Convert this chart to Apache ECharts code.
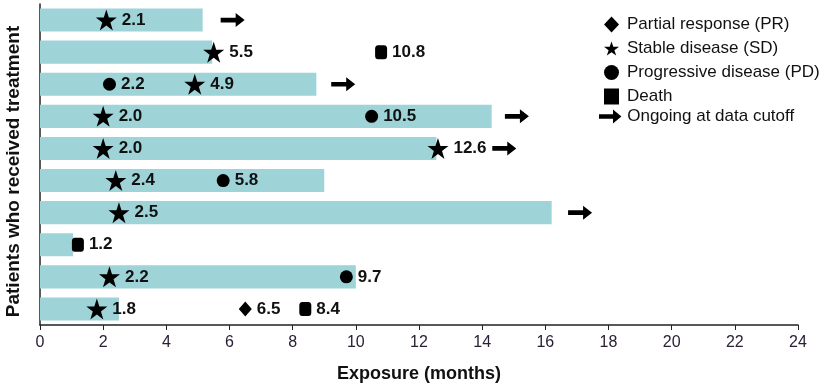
<!DOCTYPE html>
<html>
<head>
<meta charset="utf-8">
<script src="https://cdn.jsdelivr.net/npm/echarts@6/dist/echarts.min.js"></script>
<style>
html, body { margin: 0; padding: 0; background: #fff; }
#draw { width: 829px; height: 388px; }
</style>
</head>
<body>
<div id="draw"></div>
<script>
// one row per patient, top to bottom
var patients = ['1', '2', '3', '4', '5', '6', '7', '8', '9', '10'];
var exposure = [5.15, 5.45, 8.75, 14.3, 12.55, 9.0, 16.2, 1.05, 10.0, 2.5];

// [months, row]
var prPoints = [[6.5, 9]];
var sdPoints = [[2.1, 0], [5.5, 1], [4.9, 2], [2.0, 3], [2.0, 4], [12.6, 4], [2.4, 5], [2.5, 6], [2.2, 8], [1.8, 9]];
var pdPoints = [[2.2, 2], [10.5, 3], [5.8, 5], [9.7, 8]];
var deathPoints = [[10.8, 1], [1.2, 7], [8.4, 9]];
var ongoingPoints = [[6.1, 0], [9.6, 2], [15.1, 3], [14.7, 4], [17.1, 6]];

var xTicks = [0, 2, 4, 6, 8, 10, 12, 14, 16, 18, 20, 22, 24];

var starPath = 'path://M50,0 L61.8,35.5 L99,35.5 L69,57.5 L80.5,93 L50,71 L19.5,93 L31,57.5 L1,35.5 L38.2,35.5 Z';
var arrowPath = 'path://M0,5 L15,5 L15,0 L24,7.5 L15,15 L15,10 L0,10 Z';

var narrow = '"Liberation Sans Narrow", "Arial Narrow", "Liberation Sans", Arial, sans-serif';
var sans = '"Liberation Sans", Arial, sans-serif';

var myChart = echarts.init(document.getElementById('draw'));

var pointLabel = {
	show: true,
	position: 'right',
	distance: 5,
	color: '#111',
	fontFamily: narrow,
	fontWeight: 'bold',
	fontSize: 17,
	formatter: function (p) {
		return p.value[0].toFixed(1);
	}
};

function markerSeries(name, data, symbol, size, withLabel) {
	return {
		name: name,
		type: 'scatter',
		data: data,
		symbol: symbol,
		symbolSize: size,
		itemStyle: { color: '#000', opacity: 1 },
		label: withLabel ? pointLabel : { show: false },
		z: 5,
		silent: true
	};
}

var legendText = { fontFamily: sans, fontSize: 17, color: '#111', lineHeight: 16 };

var option = {
	animation: false,
	grid: { left: 40, right: 31, top: 4, bottom: 63, outerBoundsMode: 'none' },
	legend: [{
		orient: 'vertical',
		left: 604,
		top: 16,
		padding: 0,
		itemWidth: 15,
		itemHeight: 16,
		itemGap: 7,
		textStyle: Object.assign({ padding: [0, 0, 0, 3] }, legendText),
		data: [
			{ name: 'Partial response (PR)', icon: 'diamond' },
			{ name: 'Stable disease (SD)', icon: starPath },
			{ name: 'Progressive disease (PD)', icon: 'circle' },
			{ name: 'Death', icon: 'rect' }
		]
	}, {
		orient: 'vertical',
		left: 599,
		top: 108,
		padding: 0,
		itemWidth: 24,
		itemHeight: 14,
		textStyle: Object.assign({ padding: [0, 0, 0, 0] }, legendText),
		data: [{ name: 'Ongoing at data cutoff', icon: arrowPath }]
	}],
	xAxis: {
		type: 'value',
		min: 0,
		max: 24,
		interval: 2,
		name: 'Exposure (months)',
		nameLocation: 'middle',
		nameGap: 40,
		nameTextStyle: { fontFamily: sans, fontWeight: 'bold', fontSize: 18, color: '#111' },
		axisLine: { show: true, lineStyle: { color: '#222', width: 1.5 } },
		axisTick: { show: true, length: 5, lineStyle: { color: '#222' } },
		axisLabel: {
			fontFamily: narrow, fontSize: 16, color: '#2b2135', margin: 10,
			formatter: function (v) { return xTicks.indexOf(v) >= 0 ? String(v) : ''; }
		},
		splitLine: { show: false }
	},
	yAxis: {
		type: 'category',
		data: patients,
		inverse: true,
		name: 'Patients who received treatment',
		nameLocation: 'middle',
		nameGap: 17,
		nameTextStyle: { fontFamily: sans, fontWeight: 'bold', fontSize: 19, color: '#111', padding: [0, 14, 0, 0] },
		axisLine: { show: true, lineStyle: { color: '#222', width: 1.5 } },
		axisTick: { show: false },
		axisLabel: { show: false },
		splitLine: { show: false }
	},
	series: [
		{
			name: 'Exposure',
			type: 'bar',
			data: exposure,
			barWidth: '72%',
			itemStyle: { color: '#9ed3d7' },
			silent: true
		},
		markerSeries('Partial response (PR)', prPoints, 'diamond', [13, 15], true),
		markerSeries('Stable disease (SD)', sdPoints, starPath, 21, true),
		markerSeries('Progressive disease (PD)', pdPoints, 'circle', 13, true),
		markerSeries('Death', deathPoints, 'roundRect', [12, 14], true),
		markerSeries('Ongoing at data cutoff', ongoingPoints, arrowPath, [24, 14], false)
	]
};
myChart.setOption(option);
</script>
</body>
</html>
